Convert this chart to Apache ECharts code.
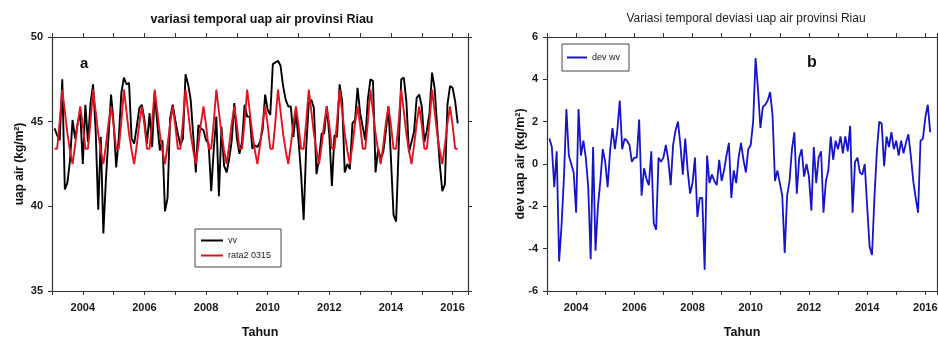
<!DOCTYPE html>
<html>
<head>
<meta charset="utf-8">
<script src="https://cdn.jsdelivr.net/npm/echarts@6/dist/echarts.min.js"></script>
<style>
  html, body { margin: 0; padding: 0; background: #fff; }
  #main { width: 938px; height: 340px; }
</style>
</head>
<body>
<div id="main"></div>
<script>
// monthly values, Jan 2003 .. Feb 2016
const vv = [
  44.6, 44.2, 43.9, 47.5, 41.0, 41.4, 42.7, 45.1, 44.0, 44.9, 45.5, 42.5,
  46.0, 43.8, 46.1, 47.2, 44.5, 39.8, 44.1, 38.4, 41.6, 44.1, 46.6, 44.9,
  42.3, 44.0, 46.7, 47.6, 47.2, 47.3, 44.0, 43.7, 44.7, 45.8, 46.0, 45.1,
  43.7, 45.5, 43.5, 46.7, 44.9, 43.3, 43.9, 39.7, 40.5, 45.2, 46.0, 45.1,
  44.3, 43.6, 44.0, 47.8, 47.2, 46.3, 44.2, 42.0, 44.8, 44.6, 44.5, 43.9,
  43.7, 40.9, 43.4, 45.3, 40.6, 44.7, 42.4, 42.0, 42.8, 43.9, 46.1, 44.0,
  43.1, 43.8, 46.0, 45.3, 45.3, 43.4, 43.6, 43.5, 43.8, 44.5, 46.6, 45.7,
  45.4, 48.4, 48.5, 48.6, 48.3, 47.1, 46.3, 45.9, 45.9, 44.1, 45.6, 43.9,
  41.9, 39.2, 43.5, 46.1, 46.3, 45.8, 41.9, 42.8, 44.3, 44.3, 45.9, 44.2,
  41.2, 44.2, 44.1, 47.2, 46.2, 42.0, 42.5, 42.2, 44.9, 45.1, 47.0, 45.5,
  44.7, 43.9, 46.3, 47.5, 47.4, 42.0, 43.4, 42.8, 43.2, 44.4, 45.9, 42.8,
  39.5, 39.1, 43.4, 47.5, 47.6, 46.2, 43.2, 43.8, 44.4, 46.4, 46.6, 45.9,
  43.8, 44.5, 45.5, 47.9, 47.0, 44.7, 42.5, 40.9, 41.3, 46.0, 47.1, 47.0,
  46.2, 44.9
];

const rata2 = [
  43.4, 43.4, 45.0, 46.9, 45.6, 44.3, 43.3, 42.5, 43.6, 44.9, 45.9, 44.8,
  43.4, 43.4, 45.0, 46.9, 45.6, 44.3, 43.3, 42.5, 43.6, 44.9, 45.9, 44.8,
  43.4, 43.4, 45.0, 46.9, 45.6, 44.3, 43.3, 42.5, 43.6, 44.9, 45.9, 44.8,
  43.4, 43.4, 45.0, 46.9, 45.6, 44.3, 43.3, 42.5, 43.6, 44.9, 45.9, 44.8,
  43.4, 43.4, 45.0, 46.9, 45.6, 44.3, 43.3, 42.5, 43.6, 44.9, 45.9, 44.8,
  43.4, 43.4, 45.0, 46.9, 45.6, 44.3, 43.3, 42.5, 43.6, 44.9, 45.9, 44.8,
  43.4, 43.4, 45.0, 46.9, 45.6, 44.3, 43.3, 42.5, 43.6, 44.9, 45.9, 44.8,
  43.4, 43.4, 45.0, 46.9, 45.6, 44.3, 43.3, 42.5, 43.6, 44.9, 45.9, 44.8,
  43.4, 43.4, 45.0, 46.9, 45.6, 44.3, 43.3, 42.5, 43.6, 44.9, 45.9, 44.8,
  43.4, 43.4, 45.0, 46.9, 45.6, 44.3, 43.3, 42.5, 43.6, 44.9, 45.9, 44.8,
  43.4, 43.4, 45.0, 46.9, 45.6, 44.3, 43.3, 42.5, 43.6, 44.9, 45.9, 44.8,
  43.4, 43.4, 45.0, 46.9, 45.6, 44.3, 43.3, 42.5, 43.6, 44.9, 45.9, 44.8,
  43.4, 43.4, 45.0, 46.9, 45.6, 44.3, 43.3, 42.5, 43.6, 44.9, 45.9, 44.8,
  43.4, 43.4
];

const devWv = [
   1.2,  0.8, -1.1,  0.6, -4.6, -2.9, -0.6,  2.6,  0.4,  0.0, -0.4, -2.3,
   2.6,  0.4,  1.1,  0.3, -1.1, -4.5,  0.8, -4.1, -2.0, -0.8,  0.7,  0.1,
  -1.1,  0.6,  1.7,  0.7,  1.6,  3.0,  0.7,  1.2,  1.1,  0.9,  0.1,  0.3,
   0.3,  2.1, -1.5, -0.2, -0.7, -1.0,  0.6, -2.8, -3.1,  0.3,  0.1,  0.3,
   0.9,  0.2, -1.0,  0.9,  1.6,  2.0,  0.9, -0.5,  1.2, -0.3, -1.4, -0.9,
   0.3, -2.5, -1.6, -1.6, -5.0,  0.4, -0.9, -0.5, -0.8, -1.0,  0.2, -0.8,
  -0.3,  0.4,  1.0, -1.6, -0.3, -0.9,  0.3,  1.0,  0.2, -0.4,  0.7,  0.9,
   2.0,  5.0,  3.5,  1.7,  2.7,  2.8,  3.0,  3.4,  2.3, -0.8, -0.3, -0.9,
  -1.5, -4.2, -1.5, -0.8,  0.7,  1.5, -1.4,  0.3,  0.7, -0.6,  0.0, -0.6,
  -2.2,  0.8, -0.9,  0.3,  0.6, -2.3, -0.8, -0.3,  1.3,  0.2,  1.1,  0.7,
   1.3,  0.5,  1.3,  0.6,  1.8, -2.3,  0.1,  0.3, -0.4, -0.5,  0.0, -2.0,
  -3.9, -4.3, -1.6,  0.6,  2.0,  1.9, -0.1,  1.3,  0.8,  1.5,  0.7,  1.1,
   0.4,  1.1,  0.5,  1.0,  1.4,  0.4, -0.8, -1.6, -2.3,  1.1,  1.2,  2.2,
   2.8,  1.5
];

// decimal year of each monthly value
const tahun = vv.map((_, i) => +(2003 + (i + 1) / 12).toFixed(4));

const font = 'Liberation Sans, Arial, Helvetica, sans-serif';
const axisColor = '#333';

function xAxisPair(grid, max) {
  const common = {
    type: 'value', gridIndex: grid, min: 2003, max: max, interval: 1,
    axisLine: { show: true, onZero: false, lineStyle: { color: axisColor, width: 1.2 } },
    axisTick: { show: true, length: 4, lineStyle: { color: axisColor, width: 1 } },
    splitLine: { show: false }
  };
  return [
    Object.assign({}, common, {
      position: 'bottom',
      axisLabel: {
        fontSize: 11, fontWeight: 'bold', color: '#1a1a1a', fontFamily: font, margin: 11,
        formatter: v => (v % 2 === 0 ? String(v) : '')
      },
      name: 'Tahun', nameLocation: 'middle', nameGap: 35, nameMoveOverlap: false,
      nameTextStyle: { fontSize: 12.5, fontWeight: 'bold', color: '#111', fontFamily: font }
    }),
    Object.assign({}, common, { position: 'top', axisLabel: { show: false } })
  ];
}

function yAxisPair(grid, min, max, step, name, gap, size) {
  const common = {
    type: 'value', gridIndex: grid, min: min, max: max, interval: step,
    axisLine: { show: true, onZero: false, lineStyle: { color: axisColor, width: 1.2 } },
    axisTick: { show: true, length: 4, lineStyle: { color: axisColor, width: 1 } },
    splitLine: { show: false }
  };
  return [
    Object.assign({}, common, {
      position: 'left',
      axisLabel: { fontSize: 11, fontWeight: 'bold', color: '#1a1a1a', fontFamily: font, margin: 9 },
      name: name, nameLocation: 'middle', nameGap: gap, nameRotate: 90, nameMoveOverlap: false,
      nameTextStyle: { fontSize: size, fontWeight: 'bold', color: '#111', fontFamily: font }
    }),
    Object.assign({}, common, { position: 'right', axisLabel: { show: false } })
  ];
}

const chart = echarts.init(document.getElementById('main'), null, { renderer: 'canvas' });

chart.setOption({
  animation: false,
  backgroundColor: '#fff',
  title: [
    {
      text: 'variasi temporal uap air provinsi Riau', left: 262, top: 13, textAlign: 'center', padding: 0,
      textStyle: { fontSize: 12.5, fontWeight: 'bold', color: '#111', fontFamily: font }
    },
    {
      text: 'Variasi temporal deviasi uap air provinsi Riau', left: 746, top: 13, textAlign: 'center', padding: 0,
      textStyle: { fontSize: 12, fontWeight: 'normal', color: '#222', fontFamily: font }
    }
  ],
  grid: [
    { left: 52, top: 37, width: 416, height: 254, containLabel: false, outerBoundsMode: 'none' },
    { left: 547, top: 37, width: 390, height: 254, containLabel: false, outerBoundsMode: 'none' }
  ],
  xAxis: [].concat(xAxisPair(0, 2016.5), xAxisPair(1, 2016.4)),
  yAxis: [].concat(
    yAxisPair(0, 35, 50, 5, 'uap air (kg/m²)', 26, 12),
    yAxisPair(1, -6, 6, 2, 'dev uap air (kg/m²)', 20, 12.5)
  ),
  legend: [
    {
      data: ['vv', 'rata2 0315'], orient: 'vertical', left: 195, top: 229,
      icon: 'rect', itemWidth: 22, itemHeight: 2, itemGap: 4,
      padding: [6, 10, 6, 6], borderColor: '#444', borderWidth: 1,
      selectedMode: false,
      textStyle: { fontSize: 9, color: '#222', fontFamily: font, lineHeight: 11 }
    },
    {
      data: ['dev wv'], orient: 'vertical', left: 562, top: 44,
      icon: 'rect', itemWidth: 20, itemHeight: 2,
      padding: [8, 9, 8, 5], borderColor: '#444', borderWidth: 1,
      selectedMode: false,
      textStyle: { fontSize: 9, color: '#222', fontFamily: font, lineHeight: 11 }
    }
  ],
  graphic: [
    { type: 'text', left: 80, top: 56, style: { text: 'a', font: 'bold 15px ' + font, fill: '#111' } },
    { type: 'text', left: 807, top: 55, style: { text: 'b', font: 'bold 16px ' + font, fill: '#111' } }
  ],
  series: [
    {
      name: 'vv', type: 'line', xAxisIndex: 0, yAxisIndex: 0,
      data: tahun.map((t, i) => [t, vv[i]]),
      showSymbol: false, symbol: 'none',
      lineStyle: { color: '#000', width: 1.9 }, itemStyle: { color: '#000' }
    },
    {
      name: 'rata2 0315', type: 'line', xAxisIndex: 0, yAxisIndex: 0,
      data: tahun.map((t, i) => [t, rata2[i]]),
      showSymbol: false, symbol: 'none',
      lineStyle: { color: '#e0141e', width: 1.9 }, itemStyle: { color: '#e0141e' }
    },
    {
      name: 'dev wv', type: 'line', xAxisIndex: 2, yAxisIndex: 2,
      data: tahun.map((t, i) => [t, devWv[i]]),
      showSymbol: false, symbol: 'none',
      lineStyle: { color: '#1414c8', width: 1.8 }, itemStyle: { color: '#1414c8' }
    }
  ]
});
</script>
</body>
</html>
